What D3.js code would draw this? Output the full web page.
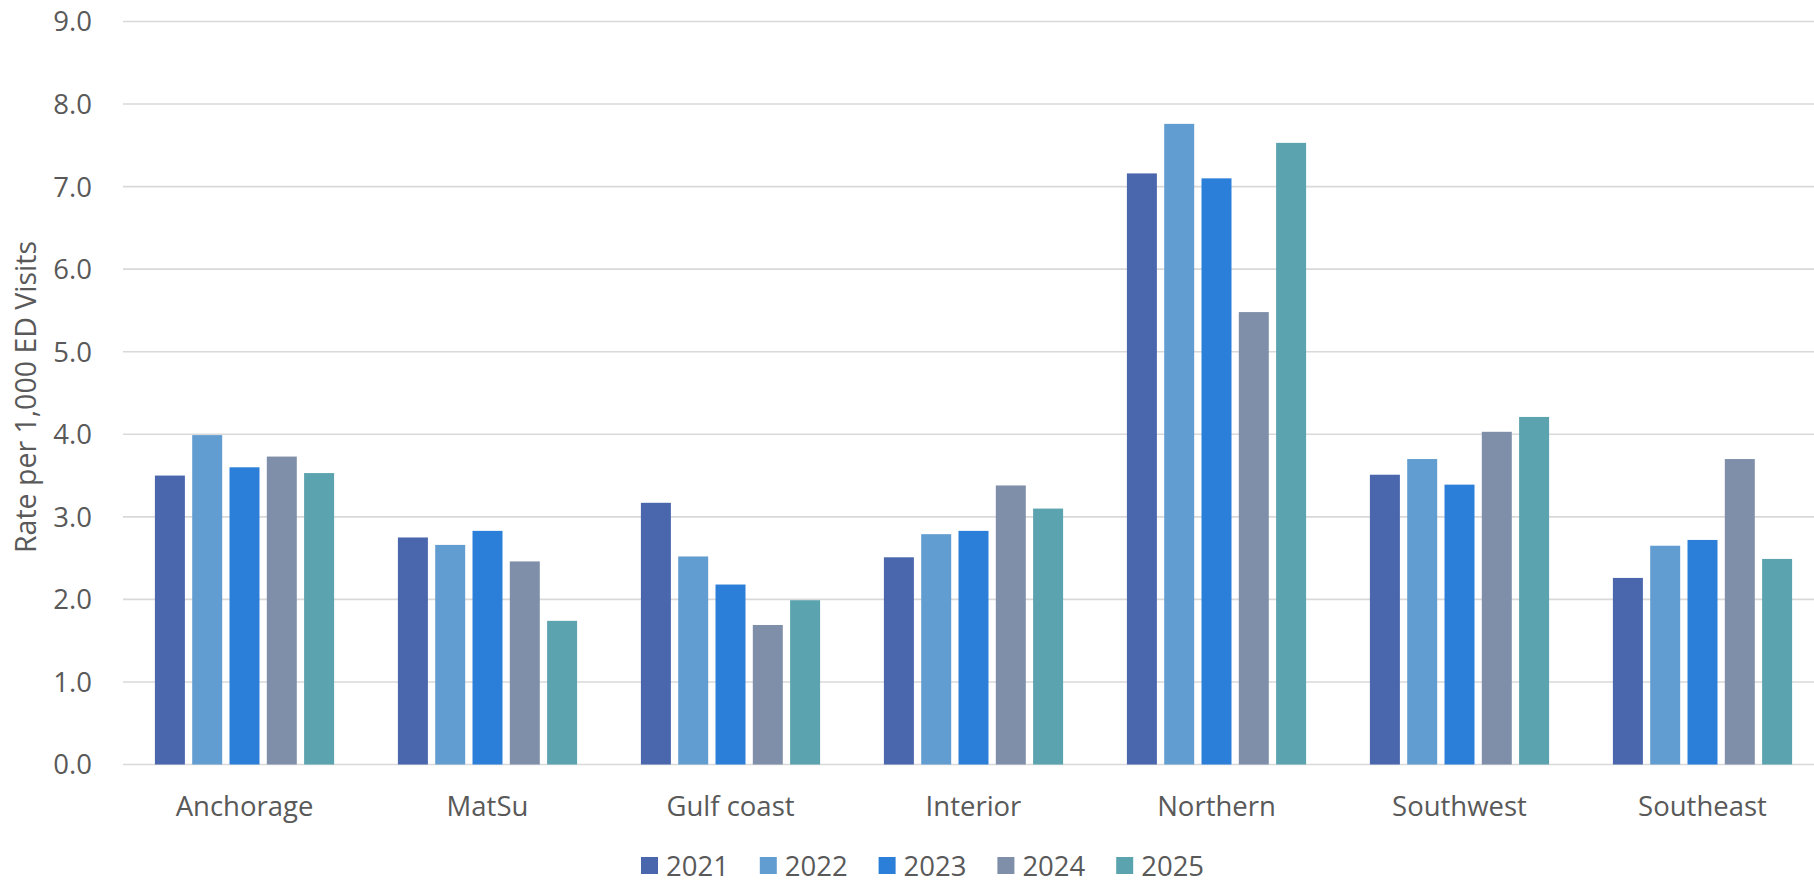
<!DOCTYPE html>
<html>
<head>
<meta charset="utf-8">
<script src="https://cdn.jsdelivr.net/npm/d3@7"></script>
<style>
  body { margin: 0; background: #fff; }
  text { font-family: "Open Sans", sans-serif; fill: #595959; }
</style>
</head>
<body>
<div id="chart"></div>
<script>
// regions and years
const regions = ["Anchorage", "MatSu", "Gulf coast", "Interior", "Northern", "Southwest", "Southeast"];
const years = ["2021", "2022", "2023", "2024", "2025"];

// rate per 1,000 ED visits, one array per year (in region order)
const rate2021 = [3.50, 2.75, 3.17, 2.51, 7.16, 3.51, 2.26];
const rate2022 = [3.99, 2.66, 2.52, 2.79, 7.76, 3.70, 2.65];
const rate2023 = [3.60, 2.83, 2.18, 2.83, 7.10, 3.39, 2.72];
const rate2024 = [3.73, 2.46, 1.69, 3.38, 5.48, 4.03, 3.70];
const rate2025 = [3.53, 1.74, 1.99, 3.10, 7.53, 4.21, 2.49];

const yTicks = [0, 1, 2, 3, 4, 5, 6, 7, 8, 9];
const colors = ["#4a67ae", "#629dd1", "#2b7fd8", "#7f8fa9", "#5ba3ae"];

const seriesValues = [rate2021, rate2022, rate2023, rate2024, rate2025];

const width = 1814;
const height = 883;

const svg = d3.select("#chart")
  .append("svg")
  .attr("width", width)
  .attr("height", height);

// plot area (the right edge runs a little past the picture, as in the original)
const plotLeft = 123, plotRight = 1824, plotTop = 21.5, plotBottom = 764.5;

const x0 = d3.scaleBand()
  .domain(regions)
  .range([plotLeft, plotRight]);

// 5 bars of ~30px with ~7px gaps, centred in each group
const groupW = 179.2;
const x1 = d3.scaleBand()
  .domain(years)
  .range([0, groupW])
  .paddingInner(0.196);

const y = d3.scaleLinear()
  .domain([0, 9])
  .range([plotBottom, plotTop]);

// gridlines
svg.append("g")
  .selectAll("line")
  .data(yTicks)
  .enter()
  .append("line")
  .attr("x1", plotLeft)
  .attr("x2", plotRight)
  .attr("y1", d => y(d))
  .attr("y2", d => y(d))
  .attr("stroke", "#d9d9d9")
  .attr("stroke-width", 1.6);

// y tick labels
svg.append("g")
  .selectAll("text")
  .data(yTicks)
  .enter()
  .append("text")
  .attr("x", 92)
  .attr("y", d => y(d))
  .attr("dy", "0.36em")
  .attr("text-anchor", "end")
  .style("font-size", "27.5px")
  .text(d => d3.format(".1f")(d));

// y axis title
svg.append("text")
  .attr("transform", `translate(36,${(plotTop + plotBottom) / 2 + 4}) rotate(-90)`)
  .attr("text-anchor", "middle")
  .style("font-size", "28.5px")
  .text("Rate per 1,000 ED Visits");

// bars
const groups = svg.append("g")
  .selectAll("g")
  .data(regions)
  .enter()
  .append("g")
  .attr("transform", d => `translate(${x0(d) + (x0.bandwidth() - groupW) / 2},0)`);

groups.selectAll("rect")
  .data((d, i) => years.map((yr, j) => ({ year: yr, value: seriesValues[j][i] })))
  .enter()
  .append("rect")
  .attr("x", d => x1(d.year))
  .attr("width", x1.bandwidth())
  .attr("y", d => y(d.value))
  .attr("height", d => y(0) - y(d.value))
  .attr("fill", (d, j) => colors[j]);

// category labels
svg.append("g")
  .selectAll("text")
  .data(regions)
  .enter()
  .append("text")
  .attr("x", d => x0(d) + x0.bandwidth() / 2)
  .attr("y", 816)
  .attr("text-anchor", "middle")
  .style("font-size", "27.5px")
  .text(d => d);

// legend
const legend = svg.append("g")
  .selectAll("g")
  .data(years)
  .enter()
  .append("g")
  .attr("transform", (d, i) => `translate(${641 + i * 118.8},0)`);

legend.append("rect")
  .attr("x", 0)
  .attr("y", 857)
  .attr("width", 17)
  .attr("height", 17)
  .attr("fill", (d, i) => colors[i]);

legend.append("text")
  .attr("x", 25)
  .attr("y", 866)
  .attr("dy", "0.36em")
  .style("font-size", "27.5px")
  .text(d => d);
</script>
</body>
</html>
